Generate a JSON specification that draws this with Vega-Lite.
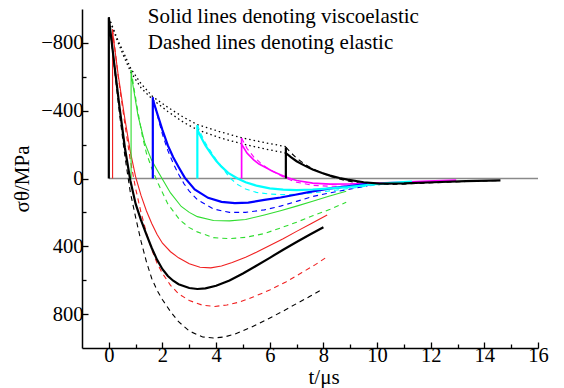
{
  "$schema": "https://vega.github.io/schema/vega-lite/v6.json",
  "width": 456,
  "height": 339,
  "autosize": {"type": "none"},
  "padding": {"left": 82, "top": 9, "right": 26, "bottom": 40},
  "background": "white",
  "config": {
    "view": {"stroke": null}
  },
  "datasets": {
    "curves": [
      {"s":"Z","m":"zero","i":0,"t":0,"v":0},{"s":"Z","m":"zero","i":1,"t":16,"v":0},
      {"s":"K1","m":"visco","i":0,"t":0,"v":0},{"s":"K1","m":"visco","i":1,"t":0,"v":-950},{"s":"K1","m":"visco","i":2,"t":0.2,"v":-680},{"s":"K1","m":"visco","i":3,"t":0.4,"v":-420},{"s":"K1","m":"visco","i":4,"t":0.6,"v":-180},{"s":"K1","m":"visco","i":5,"t":0.8,"v":10},{"s":"K1","m":"visco","i":6,"t":1.0,"v":150},{"s":"K1","m":"visco","i":7,"t":1.2,"v":245},{"s":"K1","m":"visco","i":8,"t":1.4,"v":330},{"s":"K1","m":"visco","i":9,"t":1.6,"v":410},{"s":"K1","m":"visco","i":10,"t":1.8,"v":480},{"s":"K1","m":"visco","i":11,"t":2.0,"v":535},{"s":"K1","m":"visco","i":12,"t":2.2,"v":575},{"s":"K1","m":"visco","i":13,"t":2.4,"v":603},{"s":"K1","m":"visco","i":14,"t":2.6,"v":624},{"s":"K1","m":"visco","i":15,"t":3.0,"v":646},{"s":"K1","m":"visco","i":16,"t":3.3,"v":652},{"s":"K1","m":"visco","i":17,"t":3.6,"v":648},{"s":"K1","m":"visco","i":18,"t":4.0,"v":633},{"s":"K1","m":"visco","i":19,"t":4.5,"v":602},{"s":"K1","m":"visco","i":20,"t":5.0,"v":560},{"s":"K1","m":"visco","i":21,"t":5.5,"v":515},{"s":"K1","m":"visco","i":22,"t":6.0,"v":468},{"s":"K1","m":"visco","i":23,"t":6.5,"v":420},{"s":"K1","m":"visco","i":24,"t":7.0,"v":375},{"s":"K1","m":"visco","i":25,"t":7.5,"v":330},{"s":"K1","m":"visco","i":26,"t":8.0,"v":288},
      {"s":"K1","m":"elastic","i":0,"t":0,"v":-950},{"s":"K1","m":"elastic","i":1,"t":0.2,"v":-660},{"s":"K1","m":"elastic","i":2,"t":0.4,"v":-380},{"s":"K1","m":"elastic","i":3,"t":0.6,"v":-130},{"s":"K1","m":"elastic","i":4,"t":0.8,"v":80},{"s":"K1","m":"elastic","i":5,"t":1.0,"v":230},{"s":"K1","m":"elastic","i":6,"t":1.2,"v":370},{"s":"K1","m":"elastic","i":7,"t":1.4,"v":490},{"s":"K1","m":"elastic","i":8,"t":1.6,"v":590},{"s":"K1","m":"elastic","i":9,"t":1.8,"v":660},{"s":"K1","m":"elastic","i":10,"t":2.0,"v":715},{"s":"K1","m":"elastic","i":11,"t":2.3,"v":785},{"s":"K1","m":"elastic","i":12,"t":2.6,"v":845},{"s":"K1","m":"elastic","i":13,"t":3.0,"v":900},{"s":"K1","m":"elastic","i":14,"t":3.5,"v":935},{"s":"K1","m":"elastic","i":15,"t":3.9,"v":941},{"s":"K1","m":"elastic","i":16,"t":4.3,"v":935},{"s":"K1","m":"elastic","i":17,"t":4.7,"v":918},{"s":"K1","m":"elastic","i":18,"t":5.3,"v":878},{"s":"K1","m":"elastic","i":19,"t":5.9,"v":832},{"s":"K1","m":"elastic","i":20,"t":6.5,"v":782},{"s":"K1","m":"elastic","i":21,"t":7.0,"v":738},{"s":"K1","m":"elastic","i":22,"t":7.5,"v":695},{"s":"K1","m":"elastic","i":23,"t":7.95,"v":655},
      {"s":"R","m":"visco","i":0,"t":0.14,"v":0},{"s":"R","m":"visco","i":1,"t":0.14,"v":-880},{"s":"R","m":"visco","i":2,"t":0.14,"v":-865},{"s":"R","m":"visco","i":3,"t":0.35,"v":-610},{"s":"R","m":"visco","i":4,"t":0.6,"v":-350},{"s":"R","m":"visco","i":5,"t":0.8,"v":-160},{"s":"R","m":"visco","i":6,"t":1.0,"v":-10},{"s":"R","m":"visco","i":7,"t":1.2,"v":100},{"s":"R","m":"visco","i":8,"t":1.4,"v":190},{"s":"R","m":"visco","i":9,"t":1.6,"v":265},{"s":"R","m":"visco","i":10,"t":1.8,"v":330},{"s":"R","m":"visco","i":11,"t":2.0,"v":382},{"s":"R","m":"visco","i":12,"t":2.3,"v":432},{"s":"R","m":"visco","i":13,"t":2.6,"v":468},{"s":"R","m":"visco","i":14,"t":3.0,"v":503},{"s":"R","m":"visco","i":15,"t":3.4,"v":524},{"s":"R","m":"visco","i":16,"t":3.8,"v":527},{"s":"R","m":"visco","i":17,"t":4.2,"v":516},{"s":"R","m":"visco","i":18,"t":4.6,"v":495},{"s":"R","m":"visco","i":19,"t":5.1,"v":465},{"s":"R","m":"visco","i":20,"t":5.5,"v":435},{"s":"R","m":"visco","i":21,"t":6.0,"v":395},{"s":"R","m":"visco","i":22,"t":6.5,"v":355},{"s":"R","m":"visco","i":23,"t":7.0,"v":312},{"s":"R","m":"visco","i":24,"t":7.5,"v":270},{"s":"R","m":"visco","i":25,"t":8.14,"v":215},
      {"s":"R","m":"elastic","i":0,"t":0.14,"v":-880},{"s":"R","m":"elastic","i":1,"t":0.35,"v":-600},{"s":"R","m":"elastic","i":2,"t":0.6,"v":-320},{"s":"R","m":"elastic","i":3,"t":0.8,"v":-110},{"s":"R","m":"elastic","i":4,"t":1.0,"v":60},{"s":"R","m":"elastic","i":5,"t":1.2,"v":200},{"s":"R","m":"elastic","i":6,"t":1.4,"v":320},{"s":"R","m":"elastic","i":7,"t":1.6,"v":420},{"s":"R","m":"elastic","i":8,"t":1.8,"v":500},{"s":"R","m":"elastic","i":9,"t":2.0,"v":560},{"s":"R","m":"elastic","i":10,"t":2.3,"v":630},{"s":"R","m":"elastic","i":11,"t":2.6,"v":680},{"s":"R","m":"elastic","i":12,"t":3.0,"v":720},{"s":"R","m":"elastic","i":13,"t":3.5,"v":748},{"s":"R","m":"elastic","i":14,"t":3.95,"v":755},{"s":"R","m":"elastic","i":15,"t":4.4,"v":746},{"s":"R","m":"elastic","i":16,"t":4.85,"v":730},{"s":"R","m":"elastic","i":17,"t":5.4,"v":698},{"s":"R","m":"elastic","i":18,"t":6.0,"v":658},{"s":"R","m":"elastic","i":19,"t":6.6,"v":610},{"s":"R","m":"elastic","i":20,"t":7.2,"v":555},{"s":"R","m":"elastic","i":21,"t":7.7,"v":508},{"s":"R","m":"elastic","i":22,"t":8.14,"v":462},
      {"s":"G","m":"visco","i":0,"t":0.83,"v":0},{"s":"G","m":"visco","i":1,"t":0.83,"v":-640},{"s":"G","m":"visco","i":2,"t":0.83,"v":-620},{"s":"G","m":"visco","i":3,"t":0.91,"v":-540},{"s":"G","m":"visco","i":4,"t":1.09,"v":-370},{"s":"G","m":"visco","i":5,"t":1.34,"v":-210},{"s":"G","m":"visco","i":6,"t":1.59,"v":-110},{"s":"G","m":"visco","i":7,"t":1.8,"v":-50},{"s":"G","m":"visco","i":8,"t":2.0,"v":5},{"s":"G","m":"visco","i":9,"t":2.3,"v":85},{"s":"G","m":"visco","i":10,"t":2.7,"v":165},{"s":"G","m":"visco","i":11,"t":3.0,"v":200},{"s":"G","m":"visco","i":12,"t":3.3,"v":225},{"s":"G","m":"visco","i":13,"t":3.9,"v":248},{"s":"G","m":"visco","i":14,"t":4.5,"v":250},{"s":"G","m":"visco","i":15,"t":5.1,"v":242},{"s":"G","m":"visco","i":16,"t":5.8,"v":215},{"s":"G","m":"visco","i":17,"t":6.4,"v":190},{"s":"G","m":"visco","i":18,"t":7.0,"v":163},{"s":"G","m":"visco","i":19,"t":7.6,"v":134},{"s":"G","m":"visco","i":20,"t":8.2,"v":105},{"s":"G","m":"visco","i":21,"t":8.85,"v":75},
      {"s":"G","m":"elastic","i":0,"t":0.83,"v":-640},{"s":"G","m":"elastic","i":1,"t":0.95,"v":-520},{"s":"G","m":"elastic","i":2,"t":1.1,"v":-380},{"s":"G","m":"elastic","i":3,"t":1.25,"v":-250},{"s":"G","m":"elastic","i":4,"t":1.4,"v":-150},{"s":"G","m":"elastic","i":5,"t":1.6,"v":-60},{"s":"G","m":"elastic","i":6,"t":1.84,"v":30},{"s":"G","m":"elastic","i":7,"t":2.2,"v":150},{"s":"G","m":"elastic","i":8,"t":2.65,"v":245},{"s":"G","m":"elastic","i":9,"t":3.0,"v":290},{"s":"G","m":"elastic","i":10,"t":3.3,"v":315},{"s":"G","m":"elastic","i":11,"t":3.9,"v":349},{"s":"G","m":"elastic","i":12,"t":4.5,"v":355},{"s":"G","m":"elastic","i":13,"t":5.1,"v":347},{"s":"G","m":"elastic","i":14,"t":5.8,"v":325},{"s":"G","m":"elastic","i":15,"t":6.4,"v":292},{"s":"G","m":"elastic","i":16,"t":7.0,"v":258},{"s":"G","m":"elastic","i":17,"t":7.6,"v":220},{"s":"G","m":"elastic","i":18,"t":8.25,"v":182},{"s":"G","m":"elastic","i":19,"t":8.85,"v":140},
      {"s":"B","m":"visco","i":0,"t":1.64,"v":0},{"s":"B","m":"visco","i":1,"t":1.64,"v":-480},{"s":"B","m":"visco","i":2,"t":1.64,"v":-465},{"s":"B","m":"visco","i":3,"t":1.84,"v":-366},{"s":"B","m":"visco","i":4,"t":2.0,"v":-285},{"s":"B","m":"visco","i":5,"t":2.2,"v":-195},{"s":"B","m":"visco","i":6,"t":2.4,"v":-125},{"s":"B","m":"visco","i":7,"t":2.6,"v":-68},{"s":"B","m":"visco","i":8,"t":2.83,"v":-5},{"s":"B","m":"visco","i":9,"t":3.2,"v":65},{"s":"B","m":"visco","i":10,"t":3.7,"v":114},{"s":"B","m":"visco","i":11,"t":4.2,"v":138},{"s":"B","m":"visco","i":12,"t":4.7,"v":145},{"s":"B","m":"visco","i":13,"t":5.2,"v":142},{"s":"B","m":"visco","i":14,"t":5.8,"v":126},{"s":"B","m":"visco","i":15,"t":6.4,"v":112},{"s":"B","m":"visco","i":16,"t":6.95,"v":96},{"s":"B","m":"visco","i":17,"t":7.6,"v":76},{"s":"B","m":"visco","i":18,"t":8.2,"v":60},{"s":"B","m":"visco","i":19,"t":8.9,"v":46},{"s":"B","m":"visco","i":20,"t":9.64,"v":32},
      {"s":"B","m":"elastic","i":0,"t":1.64,"v":-480},{"s":"B","m":"elastic","i":1,"t":1.84,"v":-355},{"s":"B","m":"elastic","i":2,"t":2.0,"v":-260},{"s":"B","m":"elastic","i":3,"t":2.2,"v":-165},{"s":"B","m":"elastic","i":4,"t":2.4,"v":-90},{"s":"B","m":"elastic","i":5,"t":2.6,"v":-25},{"s":"B","m":"elastic","i":6,"t":2.8,"v":30},{"s":"B","m":"elastic","i":7,"t":3.0,"v":75},{"s":"B","m":"elastic","i":8,"t":3.3,"v":125},{"s":"B","m":"elastic","i":9,"t":3.9,"v":180},{"s":"B","m":"elastic","i":10,"t":4.5,"v":200},{"s":"B","m":"elastic","i":11,"t":5.1,"v":200},{"s":"B","m":"elastic","i":12,"t":5.8,"v":185},{"s":"B","m":"elastic","i":13,"t":6.4,"v":163},{"s":"B","m":"elastic","i":14,"t":7.0,"v":135},{"s":"B","m":"elastic","i":15,"t":7.6,"v":106},{"s":"B","m":"elastic","i":16,"t":8.25,"v":85},{"s":"B","m":"elastic","i":17,"t":8.9,"v":65},{"s":"B","m":"elastic","i":18,"t":9.64,"v":44},
      {"s":"C","m":"visco","i":0,"t":3.3,"v":0},{"s":"C","m":"visco","i":1,"t":3.3,"v":-316},{"s":"C","m":"visco","i":2,"t":3.3,"v":-287},{"s":"C","m":"visco","i":3,"t":3.45,"v":-240},{"s":"C","m":"visco","i":4,"t":3.6,"v":-195},{"s":"C","m":"visco","i":5,"t":3.8,"v":-148},{"s":"C","m":"visco","i":6,"t":4.0,"v":-105},{"s":"C","m":"visco","i":7,"t":4.2,"v":-70},{"s":"C","m":"visco","i":8,"t":4.45,"v":-33},{"s":"C","m":"visco","i":9,"t":4.8,"v":0},{"s":"C","m":"visco","i":10,"t":5.1,"v":22},{"s":"C","m":"visco","i":11,"t":5.5,"v":42},{"s":"C","m":"visco","i":12,"t":6.0,"v":58},{"s":"C","m":"visco","i":13,"t":6.5,"v":66},{"s":"C","m":"visco","i":14,"t":7.0,"v":68},{"s":"C","m":"visco","i":15,"t":7.6,"v":65},{"s":"C","m":"visco","i":16,"t":8.25,"v":58},{"s":"C","m":"visco","i":17,"t":8.9,"v":50},{"s":"C","m":"visco","i":18,"t":9.7,"v":37},{"s":"C","m":"visco","i":19,"t":10.5,"v":26},{"s":"C","m":"visco","i":20,"t":11.3,"v":18},
      {"s":"C","m":"elastic","i":0,"t":3.3,"v":-316},{"s":"C","m":"elastic","i":1,"t":3.45,"v":-258},{"s":"C","m":"elastic","i":2,"t":3.6,"v":-210},{"s":"C","m":"elastic","i":3,"t":3.8,"v":-160},{"s":"C","m":"elastic","i":4,"t":4.0,"v":-112},{"s":"C","m":"elastic","i":5,"t":4.2,"v":-72},{"s":"C","m":"elastic","i":6,"t":4.5,"v":-5},{"s":"C","m":"elastic","i":7,"t":4.8,"v":35},{"s":"C","m":"elastic","i":8,"t":5.1,"v":62},{"s":"C","m":"elastic","i":9,"t":5.5,"v":82},{"s":"C","m":"elastic","i":10,"t":6.0,"v":92},{"s":"C","m":"elastic","i":11,"t":6.5,"v":95},{"s":"C","m":"elastic","i":12,"t":7.0,"v":93},{"s":"C","m":"elastic","i":13,"t":7.6,"v":85},{"s":"C","m":"elastic","i":14,"t":8.25,"v":73},{"s":"C","m":"elastic","i":15,"t":8.9,"v":60},{"s":"C","m":"elastic","i":16,"t":9.7,"v":43},{"s":"C","m":"elastic","i":17,"t":10.5,"v":30},{"s":"C","m":"elastic","i":18,"t":11.3,"v":20},
      {"s":"M","m":"visco","i":0,"t":4.95,"v":0},{"s":"M","m":"visco","i":1,"t":4.95,"v":-238},{"s":"M","m":"visco","i":2,"t":4.95,"v":-203},{"s":"M","m":"visco","i":3,"t":5.15,"v":-150},{"s":"M","m":"visco","i":4,"t":5.4,"v":-110},{"s":"M","m":"visco","i":5,"t":5.6,"v":-85},{"s":"M","m":"visco","i":6,"t":5.9,"v":-60},{"s":"M","m":"visco","i":7,"t":6.1,"v":-43},{"s":"M","m":"visco","i":8,"t":6.4,"v":-22},{"s":"M","m":"visco","i":9,"t":6.7,"v":-3},{"s":"M","m":"visco","i":10,"t":7.0,"v":12},{"s":"M","m":"visco","i":11,"t":7.6,"v":27},{"s":"M","m":"visco","i":12,"t":8.25,"v":33},{"s":"M","m":"visco","i":13,"t":9.0,"v":32},{"s":"M","m":"visco","i":14,"t":9.75,"v":28},{"s":"M","m":"visco","i":15,"t":10.8,"v":22},{"s":"M","m":"visco","i":16,"t":11.9,"v":15},{"s":"M","m":"visco","i":17,"t":12.95,"v":10},
      {"s":"M","m":"elastic","i":0,"t":4.95,"v":-238},{"s":"M","m":"elastic","i":1,"t":5.15,"v":-178},{"s":"M","m":"elastic","i":2,"t":5.4,"v":-128},{"s":"M","m":"elastic","i":3,"t":5.65,"v":-92},{"s":"M","m":"elastic","i":4,"t":5.9,"v":-62},{"s":"M","m":"elastic","i":5,"t":6.4,"v":-18},{"s":"M","m":"elastic","i":6,"t":6.7,"v":5},{"s":"M","m":"elastic","i":7,"t":7.0,"v":22},{"s":"M","m":"elastic","i":8,"t":7.6,"v":40},{"s":"M","m":"elastic","i":9,"t":8.25,"v":46},{"s":"M","m":"elastic","i":10,"t":9.0,"v":44},{"s":"M","m":"elastic","i":11,"t":9.75,"v":38},{"s":"M","m":"elastic","i":12,"t":10.8,"v":28},{"s":"M","m":"elastic","i":13,"t":11.9,"v":18},{"s":"M","m":"elastic","i":14,"t":12.95,"v":12},
      {"s":"K2","m":"visco","i":0,"t":6.6,"v":0},{"s":"K2","m":"visco","i":1,"t":6.6,"v":-185},{"s":"K2","m":"visco","i":2,"t":6.6,"v":-150},{"s":"K2","m":"visco","i":3,"t":6.8,"v":-125},{"s":"K2","m":"visco","i":4,"t":7.0,"v":-102},{"s":"K2","m":"visco","i":5,"t":7.3,"v":-76},{"s":"K2","m":"visco","i":6,"t":7.6,"v":-53},{"s":"K2","m":"visco","i":7,"t":7.95,"v":-32},{"s":"K2","m":"visco","i":8,"t":8.25,"v":-17},{"s":"K2","m":"visco","i":9,"t":8.6,"v":-3},{"s":"K2","m":"visco","i":10,"t":8.9,"v":7},{"s":"K2","m":"visco","i":11,"t":9.5,"v":22},{"s":"K2","m":"visco","i":12,"t":10.1,"v":30},{"s":"K2","m":"visco","i":13,"t":11.0,"v":29},{"s":"K2","m":"visco","i":14,"t":12.1,"v":22},{"s":"K2","m":"visco","i":15,"t":13.3,"v":16},{"s":"K2","m":"visco","i":16,"t":14.6,"v":11},
      {"s":"K2","m":"elastic","i":0,"t":6.6,"v":-185},{"s":"K2","m":"elastic","i":1,"t":6.8,"v":-150},{"s":"K2","m":"elastic","i":2,"t":7.0,"v":-120},{"s":"K2","m":"elastic","i":3,"t":7.3,"v":-85},{"s":"K2","m":"elastic","i":4,"t":7.6,"v":-57},{"s":"K2","m":"elastic","i":5,"t":7.95,"v":-32},{"s":"K2","m":"elastic","i":6,"t":8.25,"v":-13},{"s":"K2","m":"elastic","i":7,"t":8.6,"v":3},{"s":"K2","m":"elastic","i":8,"t":8.9,"v":15},{"s":"K2","m":"elastic","i":9,"t":9.5,"v":30},{"s":"K2","m":"elastic","i":10,"t":10.1,"v":36},{"s":"K2","m":"elastic","i":11,"t":11.0,"v":33},{"s":"K2","m":"elastic","i":12,"t":12.1,"v":25},{"s":"K2","m":"elastic","i":13,"t":13.3,"v":18},{"s":"K2","m":"elastic","i":14,"t":14.6,"v":12},
      {"s":"E1","m":"envelope","i":0,"t":0,"v":-950},{"s":"E1","m":"envelope","i":1,"t":0.3,"v":-830},{"s":"E1","m":"envelope","i":2,"t":0.6,"v":-725},{"s":"E1","m":"envelope","i":3,"t":0.83,"v":-645},{"s":"E1","m":"envelope","i":4,"t":1.2,"v":-560},{"s":"E1","m":"envelope","i":5,"t":1.64,"v":-482},{"s":"E1","m":"envelope","i":6,"t":2.2,"v":-420},{"s":"E1","m":"envelope","i":7,"t":2.8,"v":-360},{"s":"E1","m":"envelope","i":8,"t":3.3,"v":-318},{"s":"E1","m":"envelope","i":9,"t":4.1,"v":-278},{"s":"E1","m":"envelope","i":10,"t":4.95,"v":-240},{"s":"E1","m":"envelope","i":11,"t":5.8,"v":-212},{"s":"E1","m":"envelope","i":12,"t":6.6,"v":-188},
      {"s":"E2","m":"envelope","i":0,"t":0,"v":-950},{"s":"E2","m":"envelope","i":1,"t":0.3,"v":-820},{"s":"E2","m":"envelope","i":2,"t":0.6,"v":-705},{"s":"E2","m":"envelope","i":3,"t":0.83,"v":-625},{"s":"E2","m":"envelope","i":4,"t":1.2,"v":-535},{"s":"E2","m":"envelope","i":5,"t":1.64,"v":-465},{"s":"E2","m":"envelope","i":6,"t":2.2,"v":-395},{"s":"E2","m":"envelope","i":7,"t":2.8,"v":-330},{"s":"E2","m":"envelope","i":8,"t":3.3,"v":-288},{"s":"E2","m":"envelope","i":9,"t":4.1,"v":-242},{"s":"E2","m":"envelope","i":10,"t":4.95,"v":-205},{"s":"E2","m":"envelope","i":11,"t":5.8,"v":-175},{"s":"E2","m":"envelope","i":12,"t":6.6,"v":-150}
    ],
    "notes": [
      {"text": "Solid lines denoting viscoelastic", "t": 1.45, "v": -916},
      {"text": "Dashed lines denoting elastic", "t": 1.45, "v": -763}
    ]
  },
  "encoding": {
    "x": {"field": "t", "type": "quantitative", "scale": {"domain": [-1, 16], "nice": false, "zero": false},
      "axis": {"title": "t/μs", "labelFont": "Times New Roman", "titleFont": "Times New Roman", "labelFontSize": 20.5, "titleFontSize": 21, "titleFontWeight": "normal", "labelColor": "black", "titleColor": "black", "domainColor": "black", "tickColor": "black", "domainWidth": 1.5, "tickWidth": 1.3, "grid": false,
        "values": [0,1,2,3,4,5,6,7,8,9,10,11,12,13,14,15,16], "labelExpr": "datum.value % 2 === 0 ? datum.label : ''", "tickSize": {"condition": {"test": "datum.value % 2 === 0", "value": -6}, "value": -4}, "labelPadding": 3, "labelFlush": false, "labelOverlap": false, "titleAnchor": "start", "titleX": 226, "titleY": 35, "titleBaseline": "alphabetic"}},
    "y": {"field": "v", "type": "quantitative", "scale": {"domain": [-1000, 1000], "reverse": true, "nice": false},
      "axis": {"title": "σθ/MPa", "labelFont": "serif", "titleFont": "serif", "labelFontSize": 20.5, "titleFontSize": 21, "titleFontWeight": "normal", "labelColor": "black", "titleColor": "black", "domainColor": "black", "tickColor": "black", "domainWidth": 1.5, "tickWidth": 1.3, "grid": false,
        "values": [-800,-600,-400,-200,0,200,400,600,800], "labelExpr": "datum.value % 400 === 0 ? datum.label : ''", "tickSize": {"condition": {"test": "datum.value % 400 === 0", "value": -6}, "value": -4}, "labelPadding": 5, "labelFlush": false, "labelOverlap": false, "titlePadding": 8}}
  },
  "layer": [
    {
      "data": {"name": "curves"},
      "transform": [{"filter": "datum.m === 'zero'"}],
      "mark": {"type": "line", "color": "#8a8a8a", "strokeWidth": 1.6},
      "encoding": {"order": {"field": "i", "type": "quantitative"}}
    },
    {
      "data": {"name": "curves"},
      "transform": [{"filter": "datum.m === 'elastic'"}],
      "mark": {"type": "line", "strokeDash": [5, 4], "strokeWidth": 1.1},
      "encoding": {
        "color": {"field": "s", "type": "nominal", "scale": {"domain": ["K1","R","G","B","C","M","K2"], "range": ["#000000","#f02020","#30dd30","#0000ff","#00ffff","#ff00ff","#000000"]}, "legend": null},
        "detail": {"field": "s"},
        "order": {"field": "i", "type": "quantitative"}
      }
    },
    {
      "data": {"name": "curves"},
      "transform": [{"filter": "datum.m === 'envelope'"}],
      "mark": {"type": "line", "color": "black", "strokeDash": [1.5, 3], "strokeWidth": 1.3},
      "encoding": {"detail": {"field": "s"}, "order": {"field": "i", "type": "quantitative"}}
    },
    {
      "data": {"name": "curves"},
      "transform": [{"filter": "datum.m === 'visco' && (datum.s === 'R' || datum.s === 'G')"}],
      "mark": {"type": "line", "strokeWidth": 1.1},
      "encoding": {
        "color": {"field": "s", "type": "nominal", "legend": null},
        "detail": {"field": "s"},
        "order": {"field": "i", "type": "quantitative"}
      }
    },
    {
      "data": {"name": "curves"},
      "transform": [{"filter": "datum.m === 'visco' && datum.s === 'M'"}],
      "mark": {"type": "line", "strokeWidth": 1.7},
      "encoding": {
        "color": {"field": "s", "type": "nominal", "legend": null},
        "detail": {"field": "s"},
        "order": {"field": "i", "type": "quantitative"}
      }
    },
    {
      "data": {"name": "curves"},
      "transform": [{"filter": "datum.m === 'visco' && (datum.s === 'K1' || datum.s === 'B' || datum.s === 'C' || datum.s === 'K2')"}],
      "mark": {"type": "line", "strokeWidth": 2.2},
      "encoding": {
        "color": {"field": "s", "type": "nominal", "legend": null},
        "detail": {"field": "s"},
        "order": {"field": "i", "type": "quantitative"}
      }
    },
    {
      "data": {"name": "notes"},
      "mark": {"type": "text", "align": "left", "baseline": "alphabetic", "font": "Liberation Serif", "fontSize": 21, "color": "black"},
      "encoding": {"text": {"field": "text"}}
    }
  ]
}
